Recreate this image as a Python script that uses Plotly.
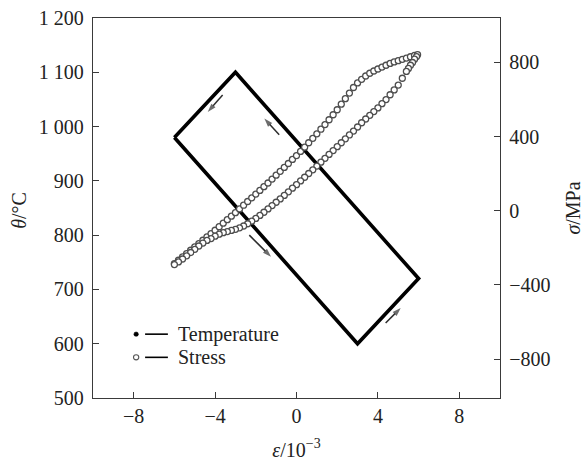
import plotly.graph_objects as go

# ---------------- data ----------------
# Temperature cycle (strain in 1e-3, temperature in deg C)
temp_strain = [-6.0, -3.0, 6.0, 3.0, -6.0]
temp_theta = [980, 1100, 720, 600, 980]

# Stress - loading branch (strain, MPa)
up_strain = [-6.0, -5.8, -5.6, -5.4, -5.2, -5.0, -4.8, -4.6, -4.4, -4.2, -4.0, -3.8, -3.6, -3.4, -3.2,
             -3.0, -2.8, -2.6, -2.4, -2.2, -2.0, -1.8, -1.6, -1.4, -1.2, -1.0, -0.8, -0.6, -0.4, -0.2,
             0.0, 0.2, 0.4, 0.6, 0.8, 1.0, 1.2, 1.4, 1.6, 1.8, 2.0, 2.2, 2.4, 2.6, 2.8,
             3.0, 3.2, 3.4, 3.6, 3.8, 4.0, 4.2, 4.4, 4.6, 4.8, 5.0, 5.2, 5.4, 5.6, 5.8, 5.95]
up_stress = [-285, -267, -249, -231, -213, -195, -177, -159, -141, -123, -105, -86, -67, -48, -29,
             -10, 10, 30, 50, 70, 90, 110, 130, 150, 171, 192, 213, 234, 255, 277,
             298, 320, 343, 367, 391, 415, 440, 465, 491, 518, 545, 575, 605, 635, 665,
             690, 709, 727, 742, 754, 765, 775, 785, 795, 803, 810, 817, 824, 831, 838, 842]

# Stress - unloading branch (strain, MPa)
down_strain = [5.9, 5.8, 5.7, 5.6, 5.5, 5.4, 5.2, 5.0, 4.8, 4.6, 4.4, 4.2, 4.0, 3.8, 3.6, 3.4, 3.2,
               3.0, 2.8, 2.6, 2.4, 2.2, 2.0, 1.8, 1.6, 1.4, 1.2, 1.0, 0.8, 0.6, 0.4, 0.2,
               0.0, -0.2, -0.4, -0.6, -0.8, -1.0, -1.2, -1.4, -1.6, -1.8, -2.0, -2.2, -2.4, -2.6, -2.8,
               -3.0, -3.2, -3.4, -3.6, -3.8, -4.0, -4.2, -4.4, -4.6, -4.8, -5.0, -5.2, -5.4, -5.6, -5.8, -6.0]
down_stress = [832, 818, 800, 785, 768, 752, 715, 678, 652, 626, 600, 578, 555, 535, 515, 495, 475,
               452, 430, 409, 388, 367, 346, 325, 304, 283, 262, 241, 221, 201, 181, 161,
               141, 122, 102, 83, 64, 46, 28, 10, -8, -25, -41, -56, -70, -82, -92,
               -100, -106, -112, -118, -126, -137, -150, -160, -174, -190, -208, -225, -243, -260, -276, -290]

# Direction arrows on the temperature path: (tail strain, tail theta) -> (head strain, head theta)
arrow_tail_x = [-3.63, -0.85, -2.32, 4.38]
arrow_tail_y = [1058, 985, 800, 638]
arrow_head_x = [-4.36, -1.58, -1.25, 5.12]
arrow_head_y = [1027, 1015, 760, 666]

x_ticks = [-8, -4, 0, 4, 8]
x_ticktext = ["\u22128", "\u22124", "0", "4", "8"]
theta_ticks = [500, 600, 700, 800, 900, 1000, 1100, 1200]
theta_ticktext = ["500", "600", "700", "800", "900", "1 000", "1 100", "1 200"]
sigma_ticks = [-800, -400, 0, 400, 800]
sigma_ticktext = ["\u2212800", "\u2212400", "0", "400", "800"]

legend_labels = ["Temperature", "Stress"]

# ---------------- figure ----------------
FONT = "Liberation Serif"
FS = 20
TXT = "#222222"
AX = "#3a3a3a"
fig = go.Figure()

fig.add_trace(go.Scatter(x=temp_strain, y=temp_theta, mode="lines",
                         line=dict(color="black", width=3.6), showlegend=False,
                         yaxis="y"))

for tx, ty, hx, hy in zip(arrow_tail_x, arrow_tail_y, arrow_head_x, arrow_head_y):
    fig.add_trace(go.Scatter(x=[tx, hx], y=[ty, hy], mode="lines+markers",
                             line=dict(color="#2e2e2e", width=1.5),
                             marker=dict(symbol="arrow", angleref="previous", size=[0, 9],
                                         color="#2e2e2e", line=dict(width=0)),
                             showlegend=False, hoverinfo="skip", yaxis="y"))

stress_marker = dict(symbol="circle", size=6, color="white",
                     line=dict(color="#4e4e4e", width=1.3))
fig.add_trace(go.Scatter(x=up_strain, y=up_stress, mode="markers", marker=stress_marker,
                         showlegend=False, yaxis="y2"))
fig.add_trace(go.Scatter(x=down_strain, y=down_stress, mode="markers", marker=stress_marker,
                         showlegend=False, yaxis="y2"))

# manual legend (paper coordinates)
leg_y = [0.168, 0.107]
for yy in leg_y:
    fig.add_shape(type="line", xref="paper", yref="paper", x0=0.128, x1=0.184, y0=yy, y1=yy,
                  line=dict(color="black", width=1.6))
# filled dot (Temperature) and open circle (Stress)
fig.add_shape(type="circle", xref="paper", yref="paper",
              x0=0.106 - 0.0055, x1=0.106 + 0.0055, y0=leg_y[0] - 0.0058, y1=leg_y[0] + 0.0058,
              fillcolor="black", line=dict(color="black", width=0.5))
fig.add_shape(type="circle", xref="paper", yref="paper",
              x0=0.106 - 0.0065, x1=0.106 + 0.0065, y0=leg_y[1] - 0.0068, y1=leg_y[1] + 0.0068,
              fillcolor="white", line=dict(color="#555555", width=1.1))
for lab, yy in zip(legend_labels, leg_y):
    fig.add_annotation(x=0.205, y=yy, xref="paper", yref="paper", text=lab,
                       xanchor="left", yanchor="middle",
                       showarrow=False, font=dict(family=FONT, size=FS, color=TXT))

# left axis title placed as rotated text
fig.add_annotation(x=-0.182, y=0.495, xref="paper", yref="paper",
                   text="<i>\u03b8</i>/\u00b0C", textangle=-90,
                   xanchor="center", yanchor="middle", showarrow=False,
                   font=dict(family=FONT, size=FS, color=TXT))

axis_common = dict(showline=True, linecolor=AX, linewidth=1.3, ticks="inside", ticklen=6,
                   tickcolor=AX, tickwidth=1.2, showgrid=False, zeroline=False,
                   automargin=False,
                   tickfont=dict(family=FONT, size=FS, color=TXT))

fig.update_layout(
    width=584, height=463,
    margin=dict(l=93, r=84, t=18, b=65),
    paper_bgcolor="white", plot_bgcolor="white",
    showlegend=False,
    xaxis=dict(range=[-10, 10], tickvals=x_ticks, ticktext=x_ticktext, mirror=True,
               title=dict(text="<i>\u03b5</i>/10<sup>\u22123</sup>", standoff=16,
                          font=dict(family=FONT, size=FS, color=TXT)),
               **axis_common),
    yaxis=dict(range=[500, 1200], tickvals=theta_ticks, ticktext=theta_ticktext,
               ticklabelstandoff=4,
               **axis_common),
    yaxis2=dict(range=[-1010, 1040], tickvals=sigma_ticks, ticktext=sigma_ticktext,
                overlaying="y", side="right",
                title=dict(text="<i>\u03c3</i>/MPa", standoff=16,
                           font=dict(family=FONT, size=FS, color=TXT)),
                ticklabelstandoff=4,
                **axis_common),
)

fig.write_html("out.html")
